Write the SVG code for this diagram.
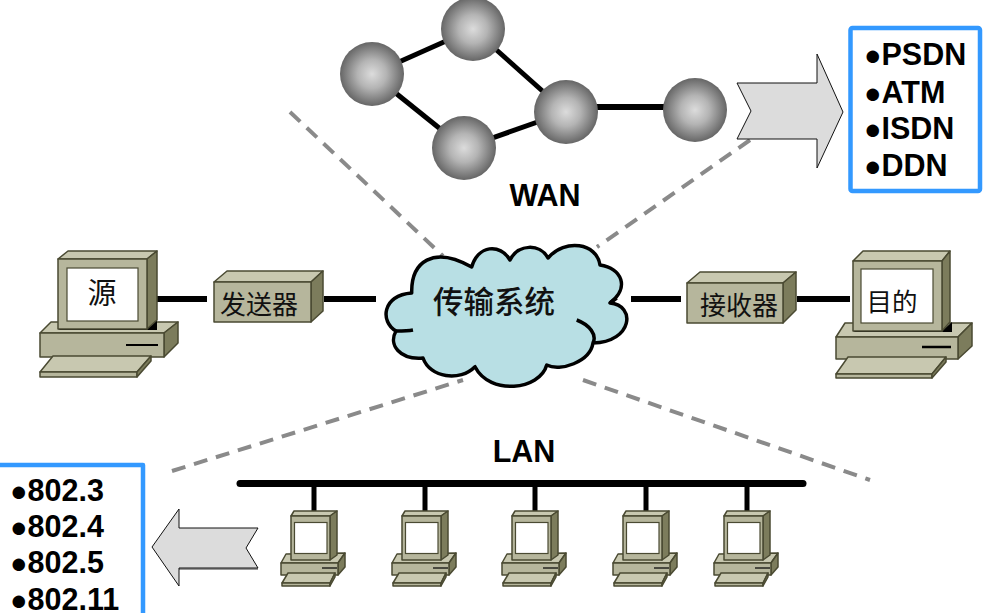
<svg xmlns="http://www.w3.org/2000/svg" width="1005" height="613" viewBox="0 0 1005 613">
<style>
.top{fill:#c8c8b0;stroke:#4a4a32;stroke-width:1.5;stroke-linejoin:round}
.front{fill:#b6b69c;stroke:#4a4a32;stroke-width:1.5;stroke-linejoin:round}
.side{fill:#7c7c5c;stroke:#4a4a32;stroke-width:1.5;stroke-linejoin:round}
.screen{fill:#fff;stroke:#4a4a32;stroke-width:1.2}
.wire{stroke:#000;stroke-width:6;fill:none}
.link{stroke:#000;stroke-width:5;fill:none}
.dash{stroke:#8a8a8a;stroke-width:4;stroke-dasharray:14 9;fill:none}
.sphere{fill:url(#ball)}
.arrow{fill:#dcdcdc;stroke:#111;stroke-width:1;stroke-linejoin:round}
.panel{fill:#fff;stroke:#3399ff;stroke-width:4.5;stroke-linejoin:round}
.lat{font-family:"Liberation Sans",Arial,sans-serif;font-weight:700;font-size:30.500px;fill:#000}
.cjk{font-family:"Noto Sans CJK SC","Liberation Sans",sans-serif;fill:#111}
.dot{font-size:29px}
</style>
<defs>
<radialGradient id="ball" cx="50%" cy="50%" r="50%">
<stop offset="0" stop-color="#dcdcdc"/>
<stop offset="0.45" stop-color="#b4b4b4"/>
<stop offset="1" stop-color="#666"/>
</radialGradient>
<g id="pc">
<path class="top" d="M286,554L345,553L338,563L281,563Z"/>
<path class="side" d="M338,563L345,553V567L338,575Z"/>
<rect class="front" x="281" y="563" width="57" height="12"/>
<path class="wire" style="stroke-width:1.2" d="M322,568H337"/>
<path class="top" d="M288,573H335L330,583H282Z"/>
<path class="front" d="M282,583H330V586H282Z"/>
<path class="side" d="M330,583L335,573V577L330,586Z"/>
<path class="top" d="M291,516L294,511H337L330,516Z"/>
<path class="side" d="M330,516L337,511V555L330,560Z"/>
<rect class="front" x="291" y="516" width="39" height="44"/>
<rect class="screen" x="294.500" y="522.500" width="32.500" height="31"/>
</g>
</defs>

<g id="connectors">
<path class="link" d="M372,74L473,29"/>
<path class="link" d="M473,29L566,112"/>
<path class="link" d="M372,74L464,148"/>
<path class="link" d="M464,148L566,112"/>
<path class="link" style="stroke-width:6" d="M566,107H695"/>
<path class="wire" d="M157,299H207"/>
<path class="wire" d="M324,299H376"/>
<path class="wire" d="M631,299H681"/>
<path class="wire" d="M797,299H850"/>
<path class="dash" d="M290,112L443,256"/>
<path class="dash" d="M750,140L597,247"/>
<path class="dash" d="M172,471L463,380"/>
<path class="dash" d="M583,380L870,480"/>
<path d="M240,483.500H803" stroke="#000" stroke-width="7" stroke-linecap="round" fill="none"/>
<path class="link" d="M314,483V511M425,483V511M535,483V511M646,483V511M747,483V511"/>
</g>

<g id="wan-node-1"><circle class="sphere" cx="372" cy="74" r="32"/></g>
<g id="wan-node-2"><circle class="sphere" cx="473" cy="29" r="32"/></g>
<g id="wan-node-3"><circle class="sphere" cx="464" cy="148" r="32"/></g>
<g id="wan-node-4"><circle class="sphere" cx="566" cy="112" r="32"/></g>
<g id="wan-node-5"><circle class="sphere" cx="695" cy="110" r="32"/></g>
<g id="wan-label"><text class="lat" x="545" y="206" text-anchor="middle">WAN</text></g>

<g id="wan-arrow"><path class="arrow" d="M737,83H817V54L843,112L817,168V139H737L751,111Z"/></g>
<g id="wan-list">
<rect class="panel" x="850.500" y="28" width="129.500" height="163" rx="2"/>
<text class="lat" x="864" y="65"><tspan class="dot">●</tspan>PSDN</text>
<text class="lat" x="864" y="103"><tspan class="dot">●</tspan>ATM</text>
<text class="lat" x="864" y="139"><tspan class="dot">●</tspan>ISDN</text>
<text class="lat" x="864" y="176"><tspan class="dot">●</tspan>DDN</text>
</g>

<g id="source">
<path class="top" d="M51,322H178L164,333H40Z"/>
<path class="side" d="M164,333L178,322V343L164,357Z"/>
<rect class="front" x="40" y="333" width="124" height="24"/>
<path class="wire" style="stroke-width:2" d="M126,345H158"/>
<path class="top" d="M53,356H151L137,372H40Z"/>
<path class="front" d="M40,372H137V377H40Z"/>
<path class="side" d="M137,372L151,356V361L137,377Z"/>
<path d="M58,329H147L157,320V330H60Z" fill="#000"/>
<path class="top" d="M58,259L68,251H157L147,259Z"/>
<path class="side" d="M147,259L157,251V320L147,329Z"/>
<rect class="front" x="58" y="259" width="89" height="70"/>
<rect class="screen" x="67" y="268" width="71" height="53"/>
<text class="cjk" x="102" y="304" font-size="29" text-anchor="middle">源</text>
</g>

<g id="sender">
<path class="top" d="M214,282L227,271H323L311,282Z"/>
<path class="side" d="M311,282L323,271V311L311,322Z"/>
<rect class="front" x="214" y="282" width="97" height="40"/>
<text class="cjk" x="259" y="314" font-size="26" text-anchor="middle">发送器</text>
</g>

<g id="cloud">
<path d="M411.700,293C411,262 433,245 471.700,267C478,245 500,243 510,260C518,244 540,243 548,258C565,238 597,243 600,265C622,268 630,288 610,303C636,305 633,342 593,343C590,362 560,372 546.700,365C540,390 490,396 475,366.700C460,382 430,378 423,358C400,360 388,345 396,331C380,322 382,295 411.700,293Z" fill="#b8dfe4" stroke="#000" stroke-width="3.500" stroke-linejoin="round"/>
<path d="M396,331C402,331 408,331 413,330M576.700,320C590,325 597,335 593,343M610,303L616.700,298" fill="none" stroke="#000" stroke-width="3.500"/>
<text class="cjk" x="494" y="313" font-size="30.500" font-weight="500" text-anchor="middle">传输系统</text>
</g>

<g id="receiver">
<path class="top" d="M687,283L700,272H796L783,283Z"/>
<path class="side" d="M783,283L796,272V310L783,323Z"/>
<rect class="front" x="687" y="283" width="96" height="40"/>
<text class="cjk" x="739" y="315" font-size="26" text-anchor="middle">接收器</text>
</g>

<g id="destination">
<path class="top" d="M845,323H972L958,337H836Z"/>
<path class="side" d="M958,337L972,323V346L958,359Z"/>
<rect class="front" x="836" y="337" width="122" height="22"/>
<path class="wire" style="stroke-width:2.500" d="M922,347H951"/>
<path class="top" d="M848,357H946L932,374H836Z"/>
<path class="front" d="M836,374H932V378H836Z"/>
<path class="side" d="M932,374L946,357V362L932,378Z"/>
<path d="M853,331H942L952,322V332H855Z" fill="#000"/>
<path class="top" d="M853,261L863,251H950L942,261Z"/>
<path class="side" d="M942,261L950,251V322L942,331Z"/>
<rect class="front" x="853" y="261" width="89" height="70"/>
<rect class="screen" x="861" y="269" width="72" height="54"/>
<text class="cjk" x="892" y="311" font-size="25.500" text-anchor="middle">目的</text>
</g>

<g id="lan-label"><text class="lat" x="524" y="462" text-anchor="middle">LAN</text></g>
<g id="lan-pc-1"><use href="#pc"/></g>
<g id="lan-pc-2"><use href="#pc" x="111"/></g>
<g id="lan-pc-3"><use href="#pc" x="221"/></g>
<g id="lan-pc-4"><use href="#pc" x="332"/></g>
<g id="lan-pc-5"><use href="#pc" x="433"/></g>

<g id="lan-arrow"><path d="M179,568.500H258" stroke="#999" stroke-width="3" fill="none"/><path class="arrow" d="M152,547L179,509V528H258L246,548L258,568H179V586Z"/></g>
<g id="lan-list">
<path class="panel" d="M-6,465H143V620H-6Z"/>
<text class="lat" x="10" y="501"><tspan class="dot">●</tspan>802.3</text>
<text class="lat" x="10" y="537"><tspan class="dot">●</tspan>802.4</text>
<text class="lat" x="10" y="573"><tspan class="dot">●</tspan>802.5</text>
<text class="lat" x="10" y="610"><tspan class="dot">●</tspan>802.11</text>
</g>
</svg>
